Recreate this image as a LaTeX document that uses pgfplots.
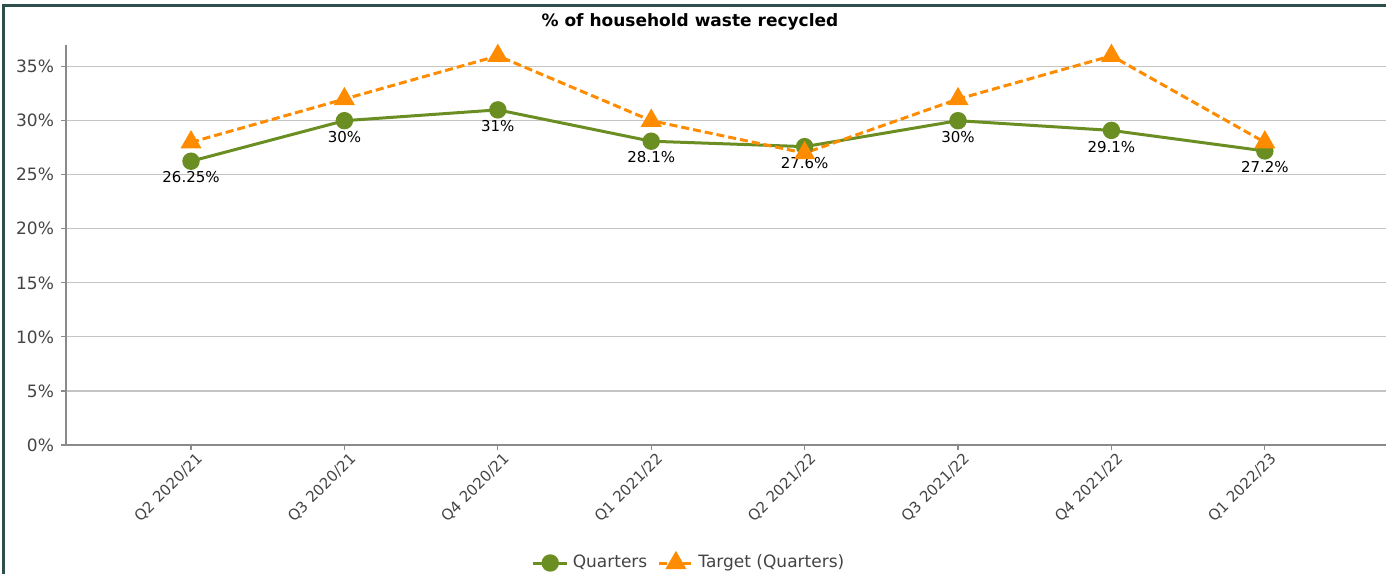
\documentclass[border=0pt]{standalone}
\usepackage{pgfplots}
\pgfplotsset{compat=1.18}
\usepackage{fontspec}
\setmainfont{DejaVu Sans}
\definecolor{qgreen}{HTML}{6B8E23}
\definecolor{torange}{HTML}{FF8C00}
\definecolor{gridc}{HTML}{C4C4C4}
\definecolor{axc}{HTML}{8A8A8A}
\definecolor{txt}{HTML}{444444}
\definecolor{frame}{HTML}{2F4F4F}
\begin{document}
\begin{tikzpicture}
% 1 px of the reference = 0.5pt
\useasboundingbox (0,0) rectangle (693pt,287pt);
\begin{axis}[
    scale only axis,
    width=660pt, height=200pt,
    at={(33pt,64.5pt)}, anchor=south west,
    xmin=-0.815, xmax=7.79,
    ymin=0, ymax=37,
    axis x line*=bottom,
    axis y line*=left,
    axis line style={axc, line width=0.7pt},
    tick align=outside,
    major tick length=2.5pt,
    tick style={axc, line width=0.6pt},
    ytick={0,5,...,35},
    yticklabel={\pgfmathprintnumber[assume math mode=true]{\tick}\%},
    yticklabel style={font=\fontsize{8.5}{10}\selectfont, text=txt},
    xtick={0,...,7},
    xticklabels={Q2 2020/21,Q3 2020/21,Q4 2020/21,Q1 2021/22,Q2 2021/22,Q3 2021/22,Q4 2021/22,Q1 2022/23},
    xticklabel style={font=\fontsize{7.5}{9}\selectfont, text=txt, rotate=45, anchor=north east, inner sep=1pt, xshift=2pt, yshift=-1pt},
    ymajorgrids,
    grid style={gridc, line width=0.6pt},
    clip=false,
    legend columns=2,
    legend style={at={(axis description cs:0.4727,-0.295)}, anchor=center, draw=none, fill=none,
        font=\fontsize{8.5}{10}\selectfont, text=txt,
        /tikz/every even column/.append style={column sep=3pt}},
]

% Ist-Werte
\addplot[qgreen, line width=1.5pt, mark=*, mark size=3.6pt,
    nodes near coords={\pgfmathprintnumber[assume math mode=true]{\pgfplotspointmeta}\%},
    every node near coord/.append style={anchor=north, inner sep=0pt, yshift=-4.5pt,
        text=black, font=\fontsize{7.5}{9}\selectfont}]
coordinates {(0,26.25) (1,30) (2,31) (3,28.1) (4,27.6) (5,30) (6,29.1) (7,27.2)};
\addlegendentry{Quarters}

% Zielwerte
\addplot[torange, line width=1.5pt, dash pattern=on 4pt off 2pt,
    mark=triangle*, mark size=4.6pt, mark options={solid}]
coordinates {(0,28) (1,32) (2,36) (3,30) (4,27) (5,32) (6,36) (7,28)};
\addlegendentry{Target (Quarters)}

% Titel
\node[font=\fontsize{8.5}{10}\selectfont\bfseries, anchor=center]
    at (axis description cs:0.4727,1.0575) {\% of household waste recycled};
\end{axis}
% Rahmen oben und links
\draw[frame, line width=1.5pt] (1.75pt,0) -- (1.75pt,284pt) -- (693pt,284pt);
\end{tikzpicture}
\end{document}
